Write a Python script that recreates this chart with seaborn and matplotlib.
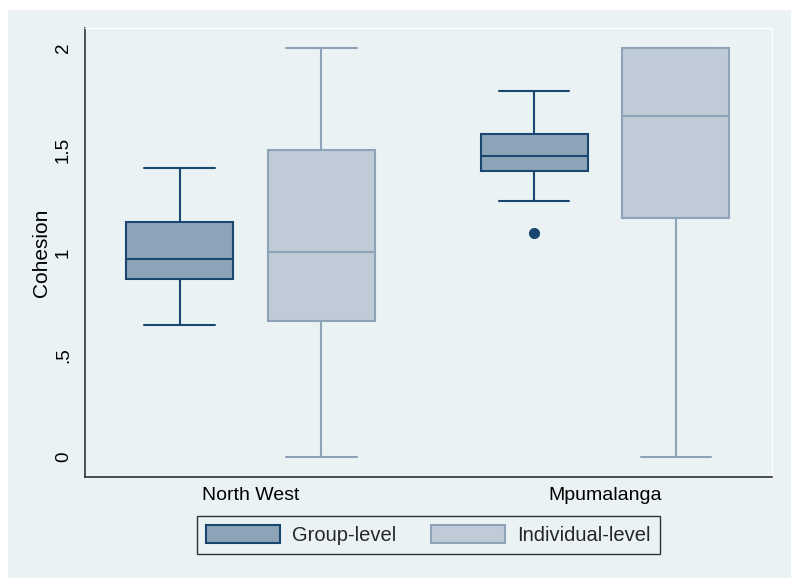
import numpy as np
import pandas as pd
import seaborn as sns
import matplotlib
matplotlib.use("Agg")
import matplotlib.pyplot as plt
from matplotlib.patches import Patch, Rectangle

# ---- data (each list reproduces the box summary) ----
regions = ["North West", "Mpumalanga"]
levels = ["Group-level", "Individual-level"]
nw_group = [0.645, 0.87, 0.968, 1.149, 1.415]
nw_indiv = [0.0, 0.667, 1.0, 1.5, 2.0]
mp_group = [1.095, 1.252, 1.40, 1.43, 1.47, 1.52, 1.58, 1.70, 1.79]
mp_indiv = [0.0, 1.167, 1.667, 2.0, 2.0]
yticks = [0, 0.5, 1, 1.5, 2]
yticklabels = ["0", ".5", "1", "1.5", "2"]

rows = []
for reg, lev, vals in [("North West", "Group-level", nw_group),
                       ("North West", "Individual-level", nw_indiv),
                       ("Mpumalanga", "Group-level", mp_group),
                       ("Mpumalanga", "Individual-level", mp_indiv)]:
    for v in vals:
        rows.append({"region": reg, "level": lev, "Cohesion": v})
df = pd.DataFrame(rows)

BG = "#EAF2F3"
fill = {"Group-level": "#8DA3B8", "Individual-level": "#BFCBD7"}
edge = {"Group-level": "#1A476F", "Individual-level": "#8FA3B8"}

sns.set_theme(style="white")
plt.rcParams["font.family"] = ["Liberation Sans", "DejaVu Sans"]

fig = plt.figure(figsize=(8, 5.88), dpi=100, facecolor="white")
fig.patches.append(Rectangle((8 / 800, 1 - 578 / 588), (791 - 8) / 800, (578 - 10) / 588,
                             transform=fig.transFigure, facecolor=BG, edgecolor="none", zorder=-10))
ax = fig.add_axes([85 / 800, 1 - 477 / 588, (772 - 85) / 800, (477 - 28) / 588])
ax.set_facecolor(BG)

for lev in levels:
    sub = df[df["level"] == lev]
    sns.boxplot(data=sub, x="region", y="Cohesion", hue="level", order=regions,
                hue_order=levels, palette=fill, saturation=1, linecolor=edge[lev], linewidth=1.5,
                width=0.8, gap=0.245, dodge=True, whis=1.5, legend=False, ax=ax,
                flierprops=dict(marker="o", markersize=7, markerfacecolor=edge[lev],
                                markeredgecolor=edge[lev]))

# widen whisker caps to ~2/3 of the box width
box_w = 0.4 * (1 - 0.245)
for ln in ax.lines:
    x = np.asarray(ln.get_xdata(), dtype=float)
    y = np.asarray(ln.get_ydata(), dtype=float)
    if len(x) == 2 and y[0] == y[1] and 0 < abs(x[1] - x[0]) < 0.8 * box_w:
        c = x.mean()
        ln.set_xdata([c - 0.33 * box_w, c + 0.33 * box_w])

ax.set_xlim(-0.467, 1.471)
ax.set_ylim(-0.098, 2.098)
ax.set_yticks(yticks)
ax.set_yticklabels(yticklabels, rotation=90, va="center")
ax.tick_params(axis="y", length=7, width=1, color="#333333", pad=2.5, labelsize=13.5, labelcolor="black")
ax.tick_params(axis="x", length=0, pad=7, labelsize=14, labelcolor="black")
ax.set_xlabel("")
ax.set_ylabel("Cohesion", fontsize=15, labelpad=3, color="black")
for s in ["left", "bottom"]:
    ax.spines[s].set_color("#333333")
    ax.spines[s].set_linewidth(1.2)
for s in ["top", "right"]:
    ax.spines[s].set_color("white")
    ax.spines[s].set_linewidth(1)

handles = [Patch(facecolor=fill[l], edgecolor=edge[l], linewidth=1.5, label=l) for l in levels]
leg = fig.legend(handles=handles, loc="upper center", bbox_to_anchor=(0.5356, 1 - 516 / 588),
                 ncol=2, frameon=True, fancybox=False, fontsize=14.5, handlelength=3.7,
                 handleheight=1.0, handletextpad=0.6, columnspacing=1.7, borderpad=0.45,
                 borderaxespad=0)
leg.get_frame().set_facecolor(BG)
leg.get_frame().set_edgecolor("#333333")
leg.get_frame().set_linewidth(1)
leg.get_frame().set_alpha(1)

fig.savefig("out.png", dpi=100, facecolor="white")
